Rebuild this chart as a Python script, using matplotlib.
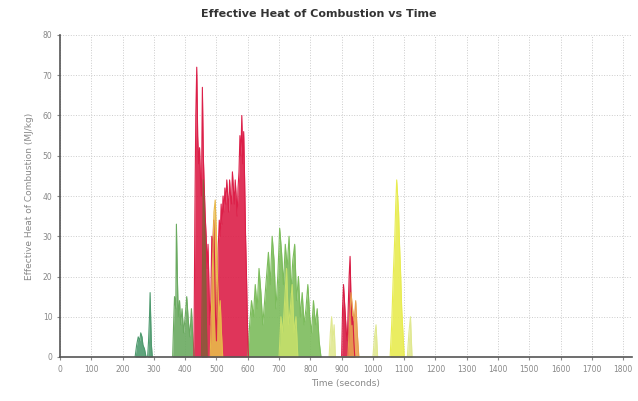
import matplotlib
matplotlib.use("Agg")
import matplotlib.pyplot as plt

title = "Effective Heat of Combustion vs Time"
xlabel = "Time (seconds)"
ylabel = "Effective Heat of Combustion (MJ/kg)"
xticks = [0, 100, 200, 300, 400, 500, 600, 700, 800, 900, 1000, 1100, 1200,
          1300, 1400, 1500, 1600, 1700, 1800]
yticks = [0, 10, 20, 30, 40, 50, 60, 70, 80]

teal_t = [240, 245, 250, 255, 258, 262, 265, 270, 275, 280, 283, 286, 288, 290, 292, 295]
teal_v = [0, 3, 5, 4, 6, 5, 3, 2, 0, 0, 4, 10, 16, 9, 3, 0]

green1_t = [360, 363, 366, 370, 372, 375, 378, 382, 386, 390, 395, 400, 405, 410,
            415, 420, 425, 430]
green1_v = [0, 8, 15, 12, 33, 20, 10, 14, 8, 12, 6, 10, 15, 9, 5, 12, 4, 0]

red_t = [428, 431, 434, 437, 440, 443, 446, 449, 452, 455, 458, 461, 464, 467, 470,
         473, 476, 479, 482, 485, 488, 491, 494, 497, 500, 503, 506, 509, 512, 515,
         518, 521, 524, 527, 530, 533, 536, 539, 542, 545, 548, 551, 554, 557, 560,
         563, 566, 569, 572, 575, 578, 581, 584, 587, 590, 593, 596, 599, 602]
red_v = [0, 35, 60, 72, 55, 48, 52, 44, 40, 67, 50, 42, 35, 30, 22, 28, 18, 8,
         14, 30, 26, 34, 24, 10, 4, 18, 28, 34, 30, 38, 33, 40, 36, 42, 38, 44,
         40, 36, 44, 40, 38, 46, 42, 38, 44, 40, 35, 42, 46, 55, 50, 60, 48, 56,
         44, 30, 20, 8, 0]

orange_t = [480, 484, 488, 492, 496, 500, 504, 508, 512, 516, 520]
orange_v = [0, 12, 24, 36, 39, 30, 18, 10, 14, 6, 0]

brown_t = [452, 455, 458, 461, 464, 467, 470]
brown_v = [0, 20, 44, 36, 28, 12, 0]

green2_t = [600, 606, 612, 618, 624, 630, 636, 642, 648, 654, 660, 666, 672, 678,
            684, 690, 696, 702, 708, 714, 720, 726, 732, 738, 744, 750, 756, 762,
            768, 774, 780, 786, 792, 798, 804, 810, 816, 822, 828, 834]
green2_v = [0, 8, 14, 10, 18, 12, 22, 16, 8, 14, 20, 26, 18, 30, 24, 12, 20, 32,
            26, 18, 28, 22, 30, 16, 24, 28, 14, 20, 10, 16, 8, 12, 18, 10, 6, 14,
            8, 12, 4, 0]

lime_t = [700, 706, 712, 718, 724, 730, 736, 742, 748, 754, 760]
lime_v = [0, 10, 6, 14, 22, 8, 12, 18, 6, 10, 0]

red2_t = [900, 903, 906, 909, 912, 915, 918, 921, 924, 927, 930, 933, 936, 939, 942]
red2_v = [0, 12, 18, 14, 10, 6, 4, 12, 20, 25, 14, 8, 10, 4, 0]

orange2_t = [920, 925, 930, 935, 940, 945, 950, 955]
orange2_v = [0, 8, 16, 12, 9, 14, 6, 0]

yellow_t = [1055, 1060, 1065, 1070, 1073, 1076, 1079, 1082, 1085, 1088, 1092, 1096, 1100]
yellow_v = [0, 8, 20, 30, 38, 44, 40, 36, 28, 22, 12, 6, 0]

pale_t = [860, 864, 868, 872, 876, 880, 1000, 1005, 1010, 1015, 1110, 1115, 1120, 1125]
pale_v = [0, 6, 10, 4, 8, 0, 0, 5, 8, 0, 0, 6, 10, 0]

fig = plt.figure(figsize=(6.38, 4.01), dpi=100)
ax = fig.add_axes([60 / 638, 44 / 401, 572 / 638, 322 / 401])

series = [
    (teal_t, teal_v, "#4e9a6e"),
    (green1_t, green1_v, "#6aaa60"),
    (green2_t, green2_v, "#7cbc5c"),
    (lime_t, lime_v, "#c6e06a"),
    (red_t, red_v, "#dc1f48"),
    (brown_t, brown_v, "#8a5a3a"),
    (orange_t, orange_v, "#e8b84a"),
    (red2_t, red2_v, "#d81c44"),
    (orange2_t, orange2_v, "#e8a050"),
    (yellow_t, yellow_v, "#e8ec50"),
    (pale_t, pale_v, "#e0e890"),
]
for t, v, c in series:
    ax.fill_between(t, v, 0, color=c, alpha=0.9, linewidth=0)
    ax.plot(t, v, color=c, linewidth=0.8)

ax.set_xlim(0, 1828)
ax.set_ylim(0, 80)
ax.set_xticks(xticks)
ax.set_yticks(yticks)
ax.tick_params(axis="both", labelsize=5.5, colors="#888888", length=2)
ax.grid(True, color="#cccccc", linestyle=":", linewidth=0.7)
ax.set_axisbelow(True)
for side in ["top", "right"]:
    ax.spines[side].set_visible(False)
ax.spines["left"].set_color("#555555")
ax.spines["bottom"].set_color("#555555")
ax.spines["left"].set_linewidth(1.2)
ax.spines["bottom"].set_linewidth(1.2)
ax.set_xlabel(xlabel, fontsize=6.5, color="#888888", labelpad=4)
ax.set_ylabel(ylabel, fontsize=6.5, color="#888888", labelpad=6)
fig.text(0.5, 0.965, title, ha="center", va="center", fontsize=8,
         fontweight="bold", color="#333333")

fig.savefig("out.png", dpi=100)
